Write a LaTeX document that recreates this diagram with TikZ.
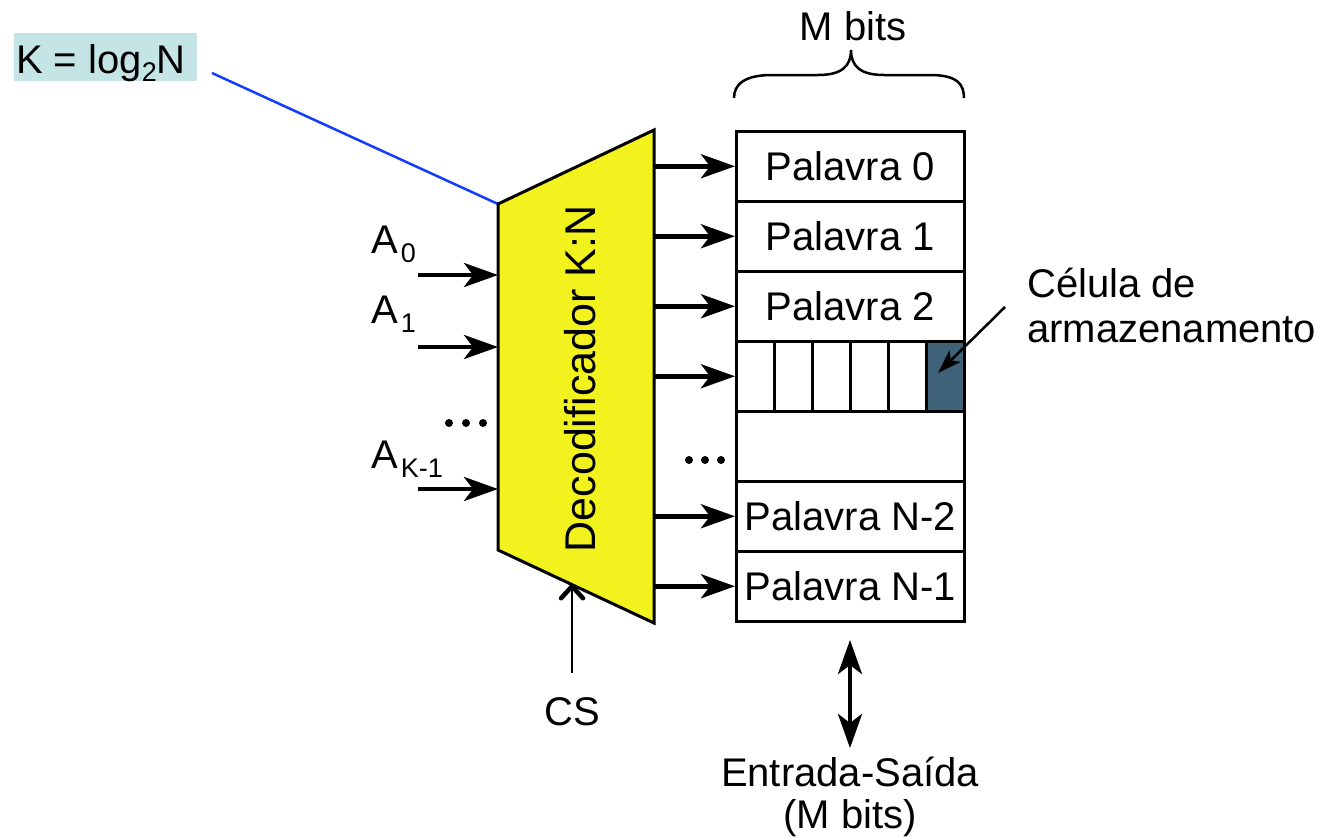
\documentclass[tikz,border=0pt]{standalone}
\usepackage{fontspec}
\setmainfont{Liberation Sans}
\usetikzlibrary{arrows.meta}
\definecolor{decyellow}{RGB}{242,242,30}
\definecolor{kbox}{RGB}{196,228,230}
\definecolor{cellfill}{RGB}{64,98,120}
\definecolor{linkblue}{RGB}{20,60,255}
\newcommand{\lowsub}[2]{\raisebox{-#1}{\fontsize{27}{27}\selectfont #2}}
\begin{document}
\begin{tikzpicture}[x=1pt,y=-1pt,
  txt/.style={font=\fontsize{40}{44}\selectfont, inner sep=0pt},
  row/.style={draw, line width=2.5pt, minimum width=228pt, minimum height=70pt, inner sep=0pt, anchor=north west, font=\fontsize{40}{44}\selectfont},
  cellbox/.style={draw, line width=2.5pt, minimum width=38pt, minimum height=70pt, inner sep=0pt, anchor=north west},
  bus/.style={line width=4.5pt, -{Stealth[length=34pt,width=24pt,inset=9pt]}},
  iobus/.style={line width=4.5pt, {Stealth[length=34pt,width=24pt,inset=9pt]}-{Stealth[length=34pt,width=24pt,inset=9pt]}},
  thinarrow/.style={line width=2.5pt, -{Stealth[length=24pt,width=16pt,inset=6pt]}},
  csarrow/.style={line width=2.5pt, -{Straight Barb[length=12pt,width=22pt,line width=4.5pt,round]}},
  dot/.style={circle, fill=black, inner sep=0pt, minimum size=8pt}
]
\useasboundingbox (0,0) rectangle (1320,838);

% K = log2 N label
\node[fill=kbox, anchor=north west, minimum width=183pt, minimum height=48pt, inner sep=0pt] (kbox) at (14,33) {};
\node[txt, anchor=base west] (klbl) at (16,73) {K = log\lowsub{8pt}{2}N};

% decoder trapezoid
\coordinate (dtl) at (498,204);
\coordinate (dtr) at (654,130);
\coordinate (dbr) at (654,623);
\coordinate (dbl) at (498,550);

% blue link
\coordinate (kend) at (212,73);
\draw[linkblue, line width=2.5pt] (kend) -- (dtl);

\draw[fill=decyellow, line width=3pt, line join=miter] (dtl) -- (dtr) -- (dbr) -- (dbl) -- cycle;
\node[font=\fontsize{43}{43}\selectfont, inner sep=0pt, rotate=90] (dec) at (580,379) {Decodificador K:N};

% memory rows
\node[row] (r0) at (735,130) {Palavra 0};
\node[row] (r1) at (735,200) {Palavra 1};
\node[row] (r2) at (735,270) {Palavra 2};
\node[row] (r3) at (735,340) {};
\node[row] (r4) at (735,410) {};
\node[row] (r5) at (735,480) {Palavra N-2};
\node[row] (r6) at (735,550) {Palavra N-1};

% cells
\node[cellbox] (c0) at (735,340) {};
\node[cellbox] (c1) at (773,340) {};
\node[cellbox] (c2) at (811,340) {};
\node[cellbox] (c3) at (849,340) {};
\node[cellbox] (c4) at (887,340) {};
\node[cellbox, fill=cellfill] (c5) at (925,340) {};

% outputs of decoder
\coordinate (decR) at (654,0);
\foreach \r in {r0,r1,r2,r3,r5,r6}{
  \draw[bus] (decR |- \r.west) -- (\r.west);
}
\node[dot] (od1) at (689,460) {};
\node[dot] (od2) at (705,460) {};
\node[dot] (od3) at (721,460) {};

% address inputs
\coordinate (in0) at (418,275); \coordinate (din0) at (498,275);
\coordinate (in1) at (418,347); \coordinate (din1) at (498,347);
\coordinate (in2) at (418,489); \coordinate (din2) at (498,489);
\draw[bus] (in0) -- (din0);
\draw[bus] (in1) -- (din1);
\draw[bus] (in2) -- (din2);
\node[txt, anchor=base west] (a0) at (371,253) {A\kern3pt\lowsub{9pt}{0}};
\node[txt, anchor=base west] (a1) at (371,323) {A\kern3pt\lowsub{9pt}{1}};
\node[txt, anchor=base west] (ak) at (371,468) {A\kern3pt\lowsub{9pt}{K-1}};
\node[dot] (id1) at (449,423) {};
\node[dot] (id2) at (466,423) {};
\node[dot] (id3) at (483,423) {};

% M bits brace
\draw[line width=2.5pt] (734,98) .. controls (734,84) and (745,75) .. (772,75)
  -- (818,75) .. controls (842,75) and (851,66) .. (851,50)
  .. controls (851,66) and (860,75) .. (884,75)
  -- (930,75) .. controls (957,75) and (964,84) .. (964,98);
\node[txt, anchor=base] (mbits) at (853,40) {M bits};

% cell label
\node[txt, anchor=north west, align=left, font=\fontsize{40}{45}\selectfont] (cel) at (1027,268) {Célula de\\armazenamento};
\coordinate (celA) at (1005,307);
\coordinate (celB) at (938,373);
\draw[thinarrow] (celA) -- (celB);

% CS
\node[txt] (cs) at (572,712) {CS};
\coordinate (csA) at (572,673);
\coordinate (csB) at (572,584);
\draw[csarrow] (csA) -- (csB);

% I/O
\coordinate (ioA) at (850,640);
\coordinate (ioB) at (850,748);
\draw[iobus] (ioA) -- (ioB);
\node[txt, anchor=north, align=center, font=\fontsize{40}{42}\selectfont] (io) at (850,757) {Entrada-Saída\\(M bits)};
\end{tikzpicture}
\end{document}
